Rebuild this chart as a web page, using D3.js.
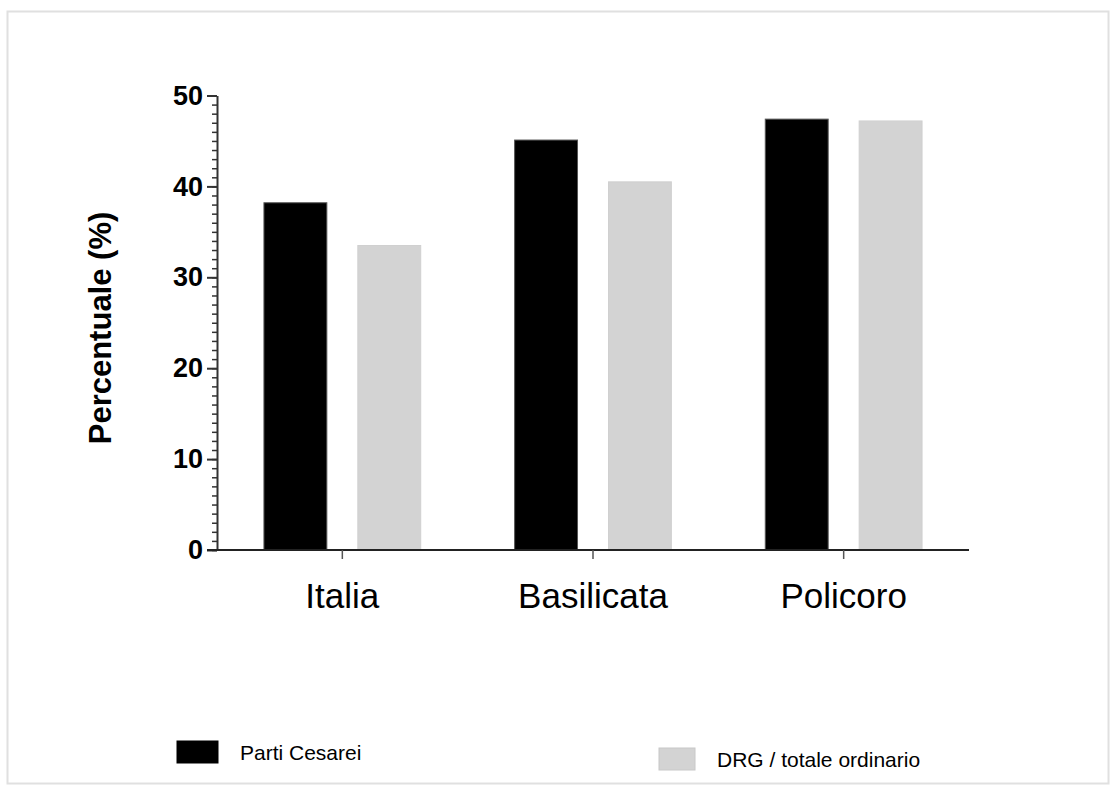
<!DOCTYPE html>
<html>
<head>
<meta charset="utf-8">
<script src="https://cdn.jsdelivr.net/npm/d3@7"></script>
<style>
  html, body { margin: 0; padding: 0; background: #fff; }
  svg { display: block; font-family: "Liberation Sans", Arial, sans-serif; }
</style>
</head>
<body>
<svg id="chart"></svg>
<script>
// data
const categories = ['Italia', 'Basilicata', 'Policoro'];
const seriesNames = ['Parti Cesarei', 'DRG / totale ordinario'];
const partiCesarei = [38.2, 45.1, 47.4];
const drgTotale = [33.5, 40.5, 47.2];
const yTicks = [0, 10, 20, 30, 40, 50];
const yMinorTicks = d3.range(0, 51, 1);

const W = 1116, H = 792;
const colors = ['#000000', '#d3d3d3'];

const svg = d3.select('#chart').attr('width', W).attr('height', H);

// outer frame
svg.append('rect').attr('x', 7.5).attr('y', 11.5).attr('width', W - 15).attr('height', H - 20)
  .attr('fill', 'none').attr('stroke', '#e0e0e0').attr('stroke-width', 2);

const x = d3.scaleBand().domain(categories).range([217, 969]).padding(0);
const xs = d3.scaleBand().domain(seriesNames).range([0, x.bandwidth()]).paddingInner(0.33).paddingOuter(0.5);
const y = d3.scaleLinear().domain([0, 50]).range([550, 95.5]);

const rows = categories.map((c, i) => ({ cat: c, vals: [partiCesarei[i], drgTotale[i]] }));

const groups = svg.append('g').selectAll('g').data(rows).enter().append('g')
  .attr('transform', d => `translate(${x(d.cat)},0)`);
groups.selectAll('rect').data(d => d.vals.map((v, k) => ({ s: seriesNames[k], v, k }))).enter().append('rect')
  .attr('x', d => xs(d.s))
  .attr('y', d => y(d.v))
  .attr('width', xs.bandwidth())
  .attr('height', d => y(0) - y(d.v))
  .attr('fill', d => colors[d.k])
  .attr('stroke', d => d.k === 0 ? '#555' : '#d0d0d0')
  .attr('stroke-width', 1);

// y axis: minor ticks
const yMinor = svg.append('g').attr('transform', 'translate(217,0)')
  .call(d3.axisLeft(y).tickValues(yMinorTicks).tickSize(5).tickFormat(''));
yMinor.select('.domain').remove();
yMinor.selectAll('line').attr('stroke', '#333').attr('stroke-width', 1.5);

const yAxis = svg.append('g').attr('transform', 'translate(217,0)')
  .call(d3.axisLeft(y).tickValues(yTicks).tickSize(10).tickSizeOuter(0).tickPadding(4));
yAxis.select('.domain').attr('stroke', '#333').attr('stroke-width', 2);
yAxis.selectAll('line').attr('stroke', '#333').attr('stroke-width', 2);
yAxis.selectAll('text').attr('font-size', 27).attr('font-weight', 'bold').attr('fill', '#000')
  .attr('font-family', '"Liberation Sans", Arial, sans-serif');

// x axis
const xAxis = svg.append('g').attr('transform', 'translate(0,550)')
  .call(d3.axisBottom(x).tickSize(9).tickSizeOuter(0).tickPadding(24));
xAxis.select('.domain').attr('d', 'M207,0H969').attr('stroke', '#222').attr('stroke-width', 2);
xAxis.selectAll('line').attr('stroke', '#555').attr('stroke-width', 1.5);
xAxis.selectAll('text').attr('font-size', 35).attr('fill', '#000')
  .attr('font-family', '"Liberation Sans", Arial, sans-serif');

// y title
svg.append('text').attr('transform', 'translate(111,328) rotate(-90)')
  .attr('text-anchor', 'middle').attr('font-size', 31).attr('font-weight', 'bold')
  .text('Percentuale (%)');

// legend
const legend = [
  { name: seriesNames[0], x: 177, y: 741, w: 41, h: 22 },
  { name: seriesNames[1], x: 659, y: 748, w: 36, h: 22 }
];
const lg = svg.append('g').selectAll('g').data(legend).enter().append('g');
lg.append('rect').attr('x', d => d.x).attr('y', d => d.y).attr('width', d => d.w).attr('height', d => d.h)
  .attr('fill', (d, i) => colors[i]).attr('stroke', (d, i) => i === 0 ? '#000' : '#c8c8c8');
lg.append('text').attr('x', d => d.x + d.w + 22).attr('y', d => d.y + d.h - 3)
  .attr('font-size', 21).text(d => d.name);
</script>
</body>
</html>
